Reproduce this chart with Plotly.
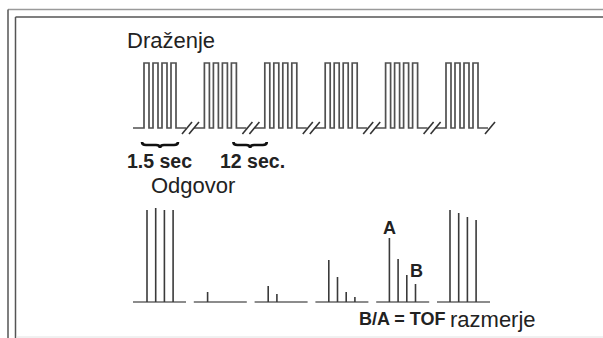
import plotly.graph_objects as go

# ---------------- data ----------------
stim_title = "Draženje"
resp_title = "Odgovor"
pulses_per_train = [4, 4, 4, 4, 4, 4]
response_amplitudes = [
    [92, 94, 92, 92],
    [10],
    [16, 8],
    [42, 25, 10, 5],
    [64, 43, 27, 18],
    [92, 89, 85, 82],
]
brace_labels = ["1.5 sec", "12 sec."]
ratio_label_bold = "B/A = TOF"
ratio_label = "razmerje"
marker_labels = ["A", "B"]

# ---------------- layout constants ----------------
W, H = 603, 338
TRAIN_X0, TRAIN_PERIOD = 144, 60.4
PULSE_W, PULSE_STEP = 5, 9
STIM_BASE, STIM_AMP = 128, 65
RESP_SEG_X0, RESP_PERIOD, RESP_SEG_LEN = 133, 60.8, 53
RESP_LINE_X0, RESP_LINE_PERIOD, RESP_LINE_STEP = 147, 60.6, 8.7
RESP_BASE = 302

REG = "Liberation Sans, Arial, sans-serif"
BOLD = "Liberation Sans, Arial, sans-serif"
TXT = "#222222"

fig = go.Figure()

# ---------------- stimulus pulse trains ----------------
sx, sy = [TRAIN_X0 - 11], [STIM_BASE]
slash_x, slash_y = [], []
n_tr = len(pulses_per_train)
for k, n in enumerate(pulses_per_train):
    p0 = TRAIN_X0 + k * TRAIN_PERIOD
    if k > 0:
        sx += [p0 - 10.4]
        sy += [STIM_BASE]
    for i in range(n):
        x = p0 + i * PULSE_STEP
        sx += [x, x, x + PULSE_W, x + PULSE_W]
        sy += [STIM_BASE, STIM_BASE - STIM_AMP, STIM_BASE - STIM_AMP, STIM_BASE]
    end = p0 + (n - 1) * PULSE_STEP + PULSE_W
    sx += [end + 10, None]
    sy += [STIM_BASE, None]
    centers = [end + 11, end + 18] if k < n_tr - 1 else [end + 12]
    for c in centers:
        slash_x += [c - 5, c + 5, None]
        slash_y += [STIM_BASE + 6, STIM_BASE - 6, None]

fig.add_trace(go.Scatter(x=sx, y=sy, mode="lines",
                         line=dict(color="#505050", width=1.7),
                         hoverinfo="skip", showlegend=False))
fig.add_trace(go.Scatter(x=slash_x, y=slash_y, mode="lines",
                         line=dict(color="#333333", width=1.6),
                         hoverinfo="skip", showlegend=False))

# ---------------- response segments ----------------
bx, by, lx, ly = [], [], [], []
for k, amps in enumerate(response_amplitudes):
    s = RESP_SEG_X0 + k * RESP_PERIOD
    bx += [s, s + RESP_SEG_LEN, None]
    by += [RESP_BASE, RESP_BASE, None]
    for i, a in enumerate(amps):
        x = RESP_LINE_X0 + k * RESP_LINE_PERIOD + i * RESP_LINE_STEP
        lx += [x, x, None]
        ly += [RESP_BASE, RESP_BASE - a, None]

fig.add_trace(go.Scatter(x=bx, y=by, mode="lines",
                         line=dict(color="#666666", width=1.6),
                         hoverinfo="skip", showlegend=False))
fig.add_trace(go.Scatter(x=lx, y=ly, mode="lines",
                         line=dict(color="#3a3a3a", width=1.6),
                         hoverinfo="skip", showlegend=False))

# ---------------- braces ----------------
def brace(x0, x1, y0):
    m = (x0 + x1) / 2
    return (f"M {x0},{y0} Q {x0},{y0+3} {x0+4},{y0+3} L {m-4},{y0+3} "
            f"Q {m},{y0+3} {m},{y0+6} Q {m},{y0+3} {m+4},{y0+3} "
            f"L {x1-4},{y0+3} Q {x1},{y0+3} {x1},{y0}")

t1 = TRAIN_X0
t1_end = TRAIN_X0 + (pulses_per_train[0] - 1) * PULSE_STEP + PULSE_W
t2_end = TRAIN_X0 + TRAIN_PERIOD + (pulses_per_train[1] - 1) * PULSE_STEP + PULSE_W
t3 = TRAIN_X0 + 2 * TRAIN_PERIOD
braces = [(t1 - 2, t1_end + 2), (t2_end - 3, t3 + 2)]
shapes = []
for (a, b) in braces:
    shapes.append(dict(type="path", path=brace(a, b, 142), xref="x", yref="y",
                       line=dict(color="#111111", width=2.6)))

# ---------------- frame ----------------
shapes += [
    dict(type="line", xref="x", yref="y", x0=8, y0=9.5, x1=W, y1=9.5,
         line=dict(color="#9a9a9a", width=1.5)),
    dict(type="line", xref="x", yref="y", x0=8, y0=9.5, x1=8, y1=H,
         line=dict(color="#555555", width=1.5)),
    dict(type="line", xref="x", yref="y", x0=15.5, y0=17, x1=W, y1=17,
         line=dict(color="#555555", width=1.5)),
    dict(type="line", xref="x", yref="y", x0=15.5, y0=17, x1=15.5, y1=H,
         line=dict(color="#555555", width=1.5)),
    dict(type="line", xref="x", yref="y", x0=16, y0=337, x1=W, y1=337,
         line=dict(color="#e2e2e2", width=1)),
]

# ---------------- texts ----------------
ann = []
def add(text, x, y, size, family, xanchor="left", bold=False):
    t = f"<b>{text}</b>" if bold else text
    ann.append(dict(text=t, x=x, y=y, xref="x", yref="y", showarrow=False,
                    xanchor=xanchor, yanchor="middle",
                    font=dict(size=size, family=family, color=TXT)))

add(stim_title, 125, 40, 22, REG)
add(resp_title, 149, 185, 22, REG)
add(brace_labels[0], 159, 161, 19.5, BOLD, "center", True)
add(brace_labels[1], 252, 161, 19.5, BOLD, "center", True)
a_x = RESP_LINE_X0 + 4 * RESP_LINE_PERIOD
b_x = RESP_LINE_X0 + 4 * RESP_LINE_PERIOD + 3 * RESP_LINE_STEP
add(marker_labels[0], a_x, 228, 18, BOLD, "center", True)
add(marker_labels[1], b_x + 1, 271, 18, BOLD, "center", True)
add(ratio_label_bold, 357, 319, 18, BOLD, "left", True)
add(ratio_label, 448, 319, 22, REG, "left")

fig.update_layout(
    width=W, height=H,
    margin=dict(l=0, r=0, t=0, b=0),
    paper_bgcolor="white", plot_bgcolor="white",
    xaxis=dict(range=[0, W], visible=False, fixedrange=True),
    yaxis=dict(range=[H, 0], visible=False, fixedrange=True),
    shapes=shapes, annotations=ann, showlegend=False,
)

fig.write_html("out.html", config={"displayModeBar": False},
               post_script="document.body.style.margin='0';document.body.style.overflow='hidden';")
